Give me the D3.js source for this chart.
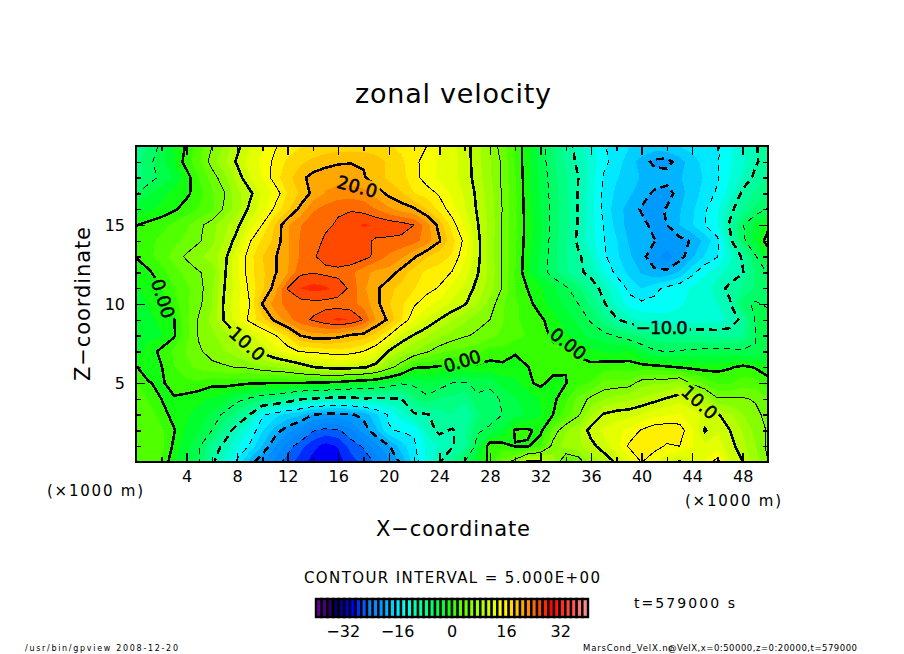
<!DOCTYPE html>
<html>
<head>
<meta charset="utf-8">
<script src="https://cdn.jsdelivr.net/npm/d3@7"></script>
<style>
body { margin: 0; background: #fff; }
svg { display: block; }
text { font-family: "DejaVu Sans", sans-serif; fill: #000; }
</style>
</head>
<body>
<svg width="904" height="654"></svg>
<script>
// x = 0..50 (x1000 m), one row per z level, from z=20 down to z=0
const zonalVelocity = [
  [-8,-6.5,-4.5,-2,0.3,2.5,5,7,9.5,11.3,13,14.8,15.8,16.5,17,17.3,17.5,17.5,17.4,17.2,16.8,16.3,15.7,15,13.5,12.2,10.8,9,6.5,4,1.5,-1.3,-4,-6.5,-9,-10.8,-12.8,-14.8,-15.8,-16.6,-17,-17.2,-17,-16.6,-16,-15.6,-15.2,-13.8,-12,-10.2,-9],
  [-7.5,-5.5,-4,-1.7,0.8,3,5.8,8,10.3,12.3,13.8,15.5,17,18,18.8,19.4,19.8,19.9,19.8,19.2,18,17,15.5,14.2,13.2,12.3,11,9,6.8,4.6,1.5,-1.3,-4,-6.3,-8.6,-10.5,-12.3,-14.5,-15.8,-17.5,-19,-20.5,-20.8,-19,-17.5,-16,-15.2,-13.5,-12,-10.3,-9],
  [-7.5,-6,-4.5,-3,-0.8,1.7,4,6.2,9,11.6,13.4,16,17.7,19.5,20.6,21,21,20.8,20.2,19,18,17.2,15.8,14,13,12.2,11,9.2,7,4.5,1.8,-1.2,-3.7,-6,-8,-10,-12.4,-15.2,-16.5,-17.5,-18.5,-19,-19,-18.5,-17.5,-16.5,-15.2,-13.3,-11.3,-9.5,-8.3],
  [-5.2,-3.5,-2.3,-1,-0.4,1,3,4.9,7.8,9.5,12,13.8,16.8,18.6,20.5,21.8,22.4,22.6,22.3,21,19.5,18.5,16.7,16,14.7,13,11.5,9.6,7.4,4.8,2,-1.2,-3.5,-5.8,-8,-10.2,-12.5,-15.5,-17,-18,-19.2,-20.3,-21,-19,-17.5,-16,-14.7,-12.5,-9.5,-8,-7],
  [-2.6,-2,-1.2,-0.3,0.8,1.8,2.8,5.4,7.5,10.5,12.5,15.5,18,20.5,23,24,24.7,24.8,24.4,23.3,22,21,20.3,18.3,16.2,14,11.8,9.8,7.6,4.9,2,-1,-3.3,-5.6,-7.7,-10.2,-12.8,-15.5,-17.5,-19,-20.2,-20.6,-19.8,-18.5,-17,-15.3,-13.5,-10.6,-8.5,-6.2,-4.8],
  [-0.1,0.6,1.2,2,3,4.5,6,7.8,9.5,12.3,15.1,18.5,21.5,23.2,24.5,24.6,25.3,26.2,26.8,26.6,26.2,25.8,25,22.5,19.3,16,13,10.2,7.8,4.8,2,-0.8,-3,-5.7,-7.8,-10.2,-12.5,-15.1,-17.2,-19,-19.5,-20.5,-20,-18.3,-16.8,-15,-13.5,-9.6,-5.2,-2.8,-0.8],
  [0.8,1.3,2,2.8,3.8,4.8,6.2,8.5,10.8,14.8,17,18.8,21.5,23.5,24,25.4,26.2,26.4,25.8,24.6,24.6,24.5,24,22.5,20.2,17.3,14.5,10.6,7.7,4.8,2,-1,-3.2,-5.9,-8.1,-10.5,-12.7,-14.9,-16.5,-18.5,-19.8,-19.9,-20.3,-20.6,-19.8,-17.8,-15.5,-10.7,-5.6,-2.5,1.2],
  [0.1,1.2,2.5,4,5.3,6.3,7.5,9.3,13,16,18.3,19.8,21.5,23.5,24.8,25.6,26.2,26.3,25.7,24.5,23,22,20.3,18.5,17.3,16.5,13.7,10.6,7.7,4.8,1.8,-1.2,-3.6,-6,-8.2,-9.6,-11.5,-14.6,-16.3,-18,-19.5,-21,-22.5,-20.8,-18.7,-16.5,-15.1,-12.2,-9.6,-5.3,-1.7],
  [-1.2,-0.3,1,2.5,4,4.9,5.5,9.7,13,16,18,19.8,21.5,24.6,24.9,24.5,24.4,23.8,22.3,21.2,21,19.3,17.5,16.3,16,14.9,12.5,10.2,7.8,4.8,1.7,-1.4,-3.8,-6,-8,-9.5,-10.7,-13,-15.6,-17,-18.5,-19.6,-19.5,-18,-15.5,-13.6,-12.3,-11,-10.2,-6.5,-4.8],
  [-1.8,-1.1,0,1.6,3,4.3,6.5,10,12.5,15.5,18,20.8,25.1,26.7,27.3,27,26,24.6,22,20.4,18.8,17.8,16.8,15.8,14.8,12.7,11.3,9.4,7.5,4.8,1.5,-0.1,-1.4,-3,-4.6,-6.4,-8.8,-10.8,-13,-15.6,-16.7,-15.6,-14.5,-13.8,-13.2,-12.5,-10.8,-9.5,-8,-6.5,-5.4],
  [-2.2,-1.6,-0.8,0.8,3,4.6,6.5,10.4,13,15,20.1,22.5,24,24.2,24.3,24.3,24.2,24,22.7,20.6,18.5,17,15.3,13.8,12.7,11.3,10.2,8.4,6,3.6,2,0.7,-1,-2.4,-3.7,-5,-7,-9.7,-12,-14,-14.6,-14.4,-14,-13.5,-13,-12.5,-11.7,-10.2,-5.6,-4.7,-5.3],
  [-2.3,-2,-1.3,-0.1,3,5.3,7.2,10.3,12.5,15.6,17.6,20.5,22.6,24.4,25.2,26.3,27,26.6,24.9,21.6,19.6,16.8,13.5,11.5,9.9,8.5,7,5.6,5,3.5,2,1,0.4,-1,-2.5,-3.7,-5.3,-7.5,-9.7,-11,-12,-12.5,-12.8,-12.8,-12.7,-12.5,-12.3,-11.3,-9.3,-4.8,-4.2],
  [-2.3,-2.1,-1.8,-0.3,2.8,5.3,6.2,7.6,9.8,11.3,13,14.8,17,20,21,21,20.6,19.7,19.3,17.7,15,11.3,9.8,8.5,7.2,6,5.2,4.7,3.8,3,2.3,1.5,0.8,-0.4,-1.5,-2.7,-3.7,-4.3,-5.2,-6.3,-7,-7.5,-7.8,-8,-8.2,-8.5,-8.7,-8.8,-8.2,-5.1,-3.8],
  [-2.2,-1,0.5,2,3.5,4.7,5.8,6.6,7.6,9.6,10.6,12.4,14,15.2,15.3,15.8,16,15.8,15,13.3,9.8,8.2,6.8,5.3,3.8,3,2.7,2.3,0.8,1.1,0.2,0.8,1,0.6,0.4,-0.3,-1.3,-1.8,-2.2,-1.4,-3.4,-4.7,-5.1,-4.8,-4.5,-4.3,-4.3,-4.3,-4.6,-4.9,-3.5],
  [0.1,-0.8,-0.1,1.6,2.9,3.8,4.4,4.7,5.1,5.3,6.3,6.7,7.3,8.5,9.9,10.6,11,10.8,10.3,9,6,3.5,0.2,0.1,-0.3,-0.4,-0.6,-0.5,-0.6,-0.5,-0.7,-0.05,0.8,0.9,0.1,0.5,0.6,1,1.2,0.9,0.8,0.6,0.3,-0.1,-0.5,-0.8,-0.6,-0.2,0.5,-0.2,-1.1],
  [1.8,0.1,-0.3,0.8,1.2,1.3,0.5,0.7,0.6,0.2,0.1,0.05,0.05,0.02,-0.3,-0.5,-0.7,-1.5,-2,-2.5,-3.5,-4.7,-4.5,-3.5,-3.8,-5,-5.2,-4.5,-4.7,-2.5,-2.2,-0.4,0.5,-0.8,-0.1,1.2,1.8,3.8,3.8,4,6,6.5,6.5,7.5,4.5,3,1.5,1.5,2.5,2.4,0.8],
  [2.5,1.5,0,-0.2,-0.6,-1.3,-1.8,-2.5,-4.3,-5.3,-6.4,-7,-8.2,-9.7,-10.3,-10.5,-11,-10.8,-10.2,-10.5,-10.2,-10,-7,-5.5,-7,-7,-8,-5.3,-5.5,-4.8,-3.5,-2.7,-1.5,-0.5,1.3,3.8,5.5,6.5,7.5,8,8.5,9.3,10.2,11,10.5,8.3,5.2,5.2,5.2,4.8,3.5],
  [3,2.6,1,-0.8,-1.4,-2.4,-3.7,-5.5,-7.5,-10,-14.7,-16,-17.2,-18,-20,-20.5,-20.5,-20.2,-19.5,-17,-14.7,-12.5,-10.3,-10.2,-9,-8.3,-9.7,-7,-5.8,-5,-4,-3,-1.8,0,2.5,4.7,8,10.2,10.8,11,11.8,12.8,13,13.5,12.3,11.3,10.3,8.5,6.8,5.5,4.4],
  [2.6,2.6,2,0.2,-2,-3.2,-5,-8.3,-11.3,-13.5,-16.5,-19,-21,-22.7,-24.8,-25.6,-25.3,-23.7,-21,-18.7,-15.2,-14.7,-14.8,-11,-9.5,-10.2,-8.8,-5.3,-4.6,-2.8,0.3,0.3,-0.6,3.8,6.5,8,10.8,12,12.8,13.8,15.2,16.2,16.5,16,13.5,9.8,11.5,10,8.2,6,4.8],
  [2,2.5,2.2,-0.4,-2.8,-4.8,-8.5,-10.7,-13,-15.3,-18.5,-21.5,-24.2,-26,-27.8,-29,-28.2,-26,-24.8,-22.2,-20.2,-17.5,-15.3,-13,-11.5,-10.2,-8.8,-4,1.3,0.8,-0.1,-0.2,1.5,5.8,7.3,8,9.3,11,12.7,15.3,16.5,15.8,14.7,15,13.5,12,12.5,10.8,8.8,6.8,4.5],
  [1.5,2,1.5,-1.2,-3.5,-5,-9.5,-12,-15.5,-19,-21.5,-24,-25.8,-27.5,-29,-29.7,-29,-27.5,-26,-24.7,-22,-19.5,-16,-13,-10.2,-8,-5,-2,0.6,4,6,10.5,10.3,7.5,2.5,3.5,7.5,8.5,10.3,12.5,15.1,13.5,12,9.8,11.5,13.5,16,11.5,10,7.5,5]
];

const xKm = d3.range(0, 51);
const zKm = d3.range(20, -1, -1);
const contourLevels = [-25, -20, -15, -10, -5, 0, 5, 10, 15, 20, 25];
const xTickValues = [4, 8, 12, 16, 20, 24, 28, 32, 36, 40, 44, 48];
const xMinorValues = [2, 6, 10, 14, 18, 22, 26, 30, 34, 38, 42, 46, 50];
const zTickValues = [5, 10, 15];
const zMinorValues = [1, 2, 3, 4, 6, 7, 8, 9, 11, 12, 13, 14, 16, 17, 18, 19];
const barTicks = [-32, -16, 0, 16, 32];
const barStep = 80 / 48;
const barLevels = d3.range(0, 48).map(i => -40 + i * barStep);

const contourLabels = [
  { text: '20.0', x: 17.5, z: 17.45, angle: 15, w: 41 },
  { text: '10.0', x: 8.8, z: 7.5, angle: 42, w: 41 },
  { text: '0.00', x: 2.15, z: 10.35, angle: 72, w: 40 },
  { text: '0.00', x: 25.8, z: 6.4, angle: -17, w: 38 },
  { text: '0.00', x: 34.2, z: 7.5, angle: 38, w: 40 },
  { text: '\u221210.0', x: 41.6, z: 8.5, angle: 0, w: 52 },
  { text: '10.0', x: 44.6, z: 3.8, angle: 42, w: 41 }
];

const svg = d3.select('svg');

const xScale = d3.scaleLinear().domain([0, 50]).range([136, 768]);
const yScale = d3.scaleLinear().domain([0, 20]).range([462, 146]);
const barScale = d3.scaleLinear().domain([-40, 40]).range([316, 588]);

const color = d3.scaleLinear()
  .domain([-40, -36.5, -34, -31, -29, -24.5, -21, -14.5, -11.8, -6.9, -1.5, 0, 5, 10, 14.7, 21.5, 29.4, 34, 40])
  .range(['#6e00a0', '#3c006e', '#00005a', '#0000c8', '#0000ff', '#0082ff', '#0096ff', '#00ffff', '#00ffc8', '#00ff78', '#00ff1e', '#28ff00', '#78ff00', '#c3ff00', '#ffff00', '#ffa000', '#ff0000', '#ff4040', '#ff9696']);

const nx = xKm.length;
const ny = zKm.length;
const values = zonalVelocity.flat();

// d3.contours puts samples at cell centres, so shift by half a cell
const path = d3.geoPath(d3.geoTransform({
  point(x, y) {
    this.stream.point(xScale(x - 0.5), yScale(20 - (y - 0.5)));
  }
}));

const defs = svg.append('defs');
defs.append('clipPath').attr('id', 'plot-clip')
  .append('rect')
  .attr('x', 136).attr('y', 146).attr('width', 632).attr('height', 316);

const mask = defs.append('mask').attr('id', 'label-gaps')
  .attr('maskUnits', 'userSpaceOnUse')
  .attr('x', 0).attr('y', 0).attr('width', 904).attr('height', 654);
mask.append('rect').attr('width', 904).attr('height', 654).attr('fill', '#fff');
mask.selectAll('rect.gap')
  .data(contourLabels)
  .enter()
  .append('rect')
  .attr('class', 'gap')
  .attr('x', d => -d.w / 2 - 2)
  .attr('y', -9)
  .attr('width', d => d.w + 4)
  .attr('height', 18)
  .attr('fill', '#000')
  .attr('transform', d => `translate(${xScale(d.x)},${yScale(d.z)}) rotate(${d.angle})`);

const plot = svg.append('g').attr('clip-path', 'url(#plot-clip)');

// tone
const bands = d3.contours().size([nx, ny]).thresholds(barLevels)(values);
plot.append('g').selectAll('path')
  .data(bands)
  .enter()
  .append('path')
  .attr('d', path)
  .attr('fill', d => color(d.value + barStep / 2))
  .attr('shape-rendering', 'crispEdges');

// contour lines
const lines = d3.contours().size([nx, ny]).thresholds(contourLevels)(values);
plot.append('g').attr('mask', 'url(#label-gaps)').selectAll('path')
  .data(lines)
  .enter()
  .append('path')
  .attr('d', path)
  .attr('fill', 'none')
  .attr('stroke', '#000')
  .attr('stroke-width', d => d.value % 10 === 0 ? 2.6 : 1)
  .attr('stroke-dasharray', d => d.value < 0 ? (d.value % 10 === 0 ? '8,5' : '6,5') : null)
  .attr('shape-rendering', 'crispEdges');

svg.append('g').selectAll('text')
  .data(contourLabels)
  .enter()
  .append('text')
  .attr('transform', d => `translate(${xScale(d.x)},${yScale(d.z)}) rotate(${d.angle})`)
  .attr('text-anchor', 'middle')
  .attr('dy', '0.37em')
  .attr('font-size', 18)
  .attr('stroke', '#000')
  .attr('stroke-width', 0.5)
  .attr('textLength', d => d.w)
  .attr('lengthAdjust', 'spacing')
  .text(d => d.text);

// axes, ticks point inward
const drawAxis = (axis, tx, ty) => {
  const g = svg.append('g')
    .attr('transform', `translate(${tx},${ty})`)
    .call(axis);
  g.select('.domain').remove();
  g.selectAll('.tick line').attr('stroke', '#000').attr('stroke-width', 1.5).attr('shape-rendering', 'crispEdges');
  g.selectAll('.tick text').attr('font-size', 16).attr('font-family', '"DejaVu Sans", sans-serif');
  return g;
};

drawAxis(d3.axisBottom(xScale).tickValues(xTickValues).tickSize(-9).tickPadding(9).tickFormat(d3.format('d')), 0, 462);
drawAxis(d3.axisBottom(xScale).tickValues(xMinorValues).tickSize(-5).tickFormat(''), 0, 462);
drawAxis(d3.axisTop(xScale).tickValues(xTickValues).tickSize(-9).tickFormat(''), 0, 146);
drawAxis(d3.axisTop(xScale).tickValues(xMinorValues).tickSize(-5).tickFormat(''), 0, 146);
drawAxis(d3.axisLeft(yScale).tickValues(zTickValues).tickSize(-9).tickPadding(11).tickFormat(d3.format('d')), 136, 0);
drawAxis(d3.axisLeft(yScale).tickValues(zMinorValues).tickSize(-5).tickFormat(''), 136, 0);
drawAxis(d3.axisRight(yScale).tickValues(zTickValues).tickSize(-9).tickFormat(''), 768, 0);
drawAxis(d3.axisRight(yScale).tickValues(zMinorValues).tickSize(-5).tickFormat(''), 768, 0);

svg.append('rect')
  .attr('x', 136).attr('y', 146).attr('width', 632).attr('height', 316)
  .attr('fill', 'none').attr('stroke', '#000').attr('stroke-width', 2.6)
  .attr('shape-rendering', 'crispEdges');

// colour bar
const barY = 599;
const barH = 18;
svg.append('g').selectAll('rect')
  .data(barLevels)
  .enter()
  .append('rect')
  .attr('x', d => barScale(d))
  .attr('y', barY)
  .attr('width', barScale(barStep) - barScale(0))
  .attr('height', barH)
  .attr('fill', d => color(d + barStep / 2))
  .attr('stroke', '#000')
  .attr('stroke-width', 2.4);

svg.append('g').selectAll('text')
  .data(barTicks)
  .enter()
  .append('text')
  .attr('x', d => barScale(d))
  .attr('y', 637)
  .attr('text-anchor', 'middle')
  .attr('font-size', 16)
  .text(d => d < 0 ? '\u2212' + Math.abs(d) : d);

// free text
const addText = (str, x, y, size, len, rotate) => {
  const t = svg.append('text')
    .attr('x', x)
    .attr('y', y)
    .attr('font-size', size)
    .attr('textLength', len)
    .attr('lengthAdjust', 'spacing')
    .text(str);
  if (rotate) t.attr('transform', `rotate(${rotate},${x},${y})`);
  return t;
};

addText('zonal velocity', 355, 103, 27, 196);
addText('X\u2212coordinate', 376, 536, 21, 154);
addText('Z\u2212coordinate', 90, 381, 21, 154, -90);
addText('(\u00d71000 m)', 47, 496, 15, 96);
addText('(\u00d71000 m)', 685, 506, 15, 96);
addText('CONTOUR INTERVAL = 5.000E+00', 304, 583, 15, 296);
addText('t=579000 s', 634, 608, 14, 101);
addText('/usr/bin/gpview  2008-12-20', 25, 651, 8, 153);
addText('MarsCond_VelX.nc', 583, 651, 8.5, 90);
addText('@VelX,x=0:50000,z=0:20000,t=579000', 668, 651, 8.5, 189);
</script>
</body>
</html>
